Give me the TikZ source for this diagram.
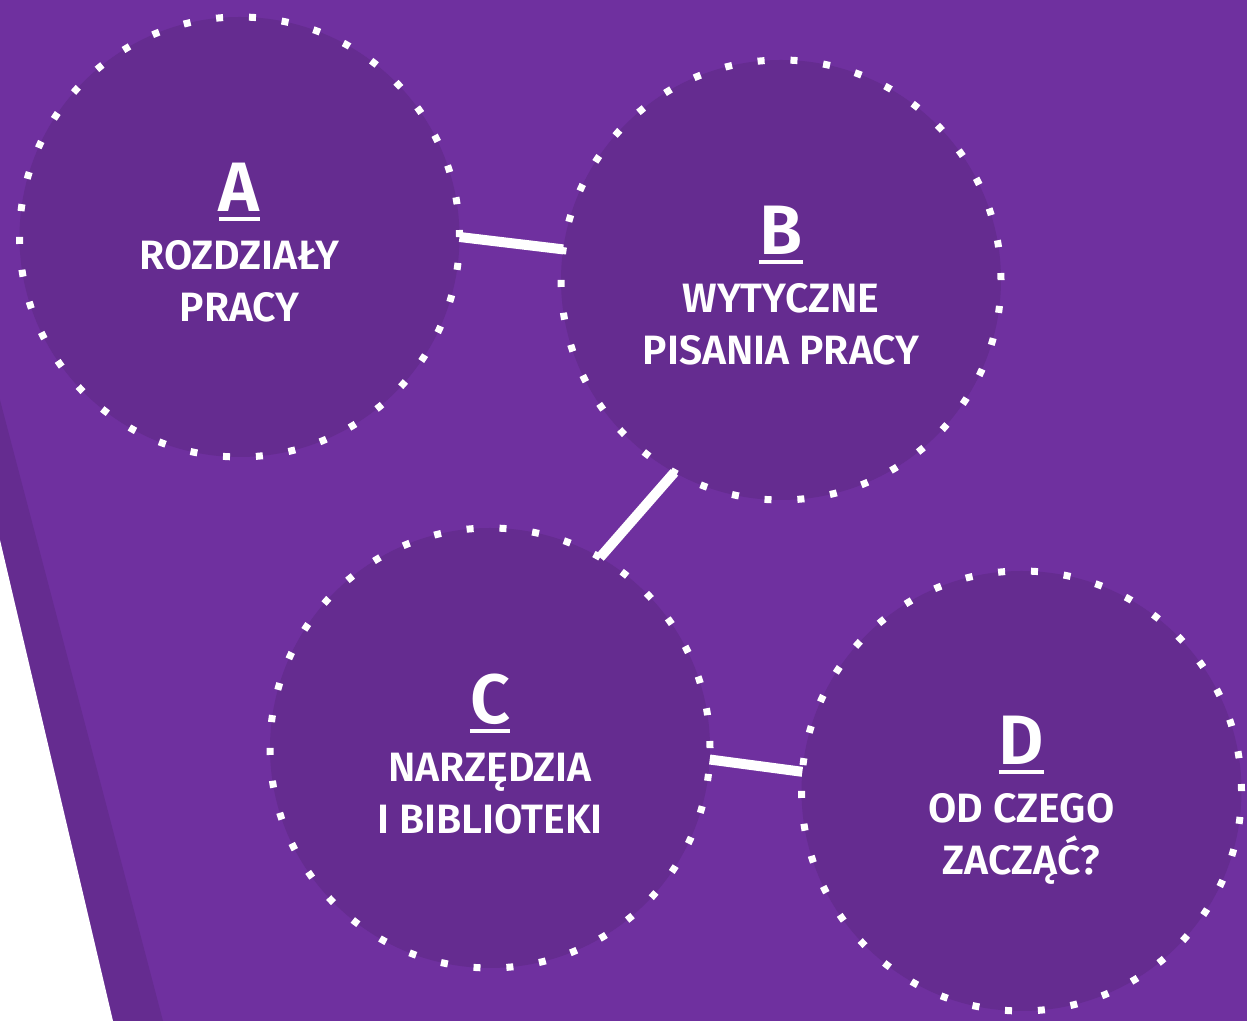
\documentclass[tikz,border=0pt]{standalone}
\usepackage{fontspec}
\setmainfont{Fira Sans}[BoldFont={Fira Sans SemiBold}]
\usetikzlibrary{calc}
\definecolor{bgpurple}{RGB}{111,48,159}
\definecolor{discpurple}{RGB}{101,44,144}
\newcommand\ulletter[1]{{\fontsize{35}{35}\selectfont\setbox0\hbox{#1}\rlap{\rule[-4.5pt]{\wd0}{2pt}}\box0}}

\begin{document}
\begin{tikzpicture}[line cap=butt,line join=round,x=0.5pt,y=0.5pt,
    bubble/.style={circle,minimum size=220pt,inner sep=0pt,outer sep=0pt,
      fill=discpurple,draw=white,line width=3.5pt,dash pattern=on 3.5pt off 12.957pt},
    caption/.style={anchor=south,inner sep=0pt,text depth=0pt,text=white,align=center,
      font=\bfseries\fontsize{20.5}{26}\selectfont},
    link/.style={draw=white,line width=5pt}]

    \clip (0,0) rectangle (1247,1021);
    \fill[bgpurple] (0,0) rectangle (1247,1021);
    \fill[discpurple] (0,621) -- (163,0) -- (113,0) -- (0,481) -- cycle;
    \fill[white] (0,481) -- (113,0) -- (0,0) -- cycle;

    \node[bubble] (A) at (239.5,784) {};
    \node[bubble] (B) at (781,741) {};
    \node[bubble] (C) at (490,273) {};
    \node[bubble] (D) at (1021.5,230) {};

    \draw[link] (A.0) -- (B.172);
    \draw[link] (B.241) -- (C.60);
    \draw[link] (C.-3.6) -- (D.175);

    \node[caption] (A-text) at ($(A)+(0,-85)$) {\ulletter{A}\\[3pt]ROZDZIAŁY\\PRACY};
    \node[caption] (B-text) at ($(B)+(0,-85)$) {\ulletter{B}\\[3pt]WYTYCZNE\\PISANIA PRACY};
    \node[caption] (C-text) at ($(C)+(0,-86)$) {\ulletter{C}\\[3pt]NARZĘDZIA\\I BIBLIOTEKI};
    \node[caption] (D-text) at ($(D)+(0,-84)$) {\ulletter{D}\\[3pt]OD CZEGO\\ZACZĄĆ?};
\end{tikzpicture}
\end{document}
